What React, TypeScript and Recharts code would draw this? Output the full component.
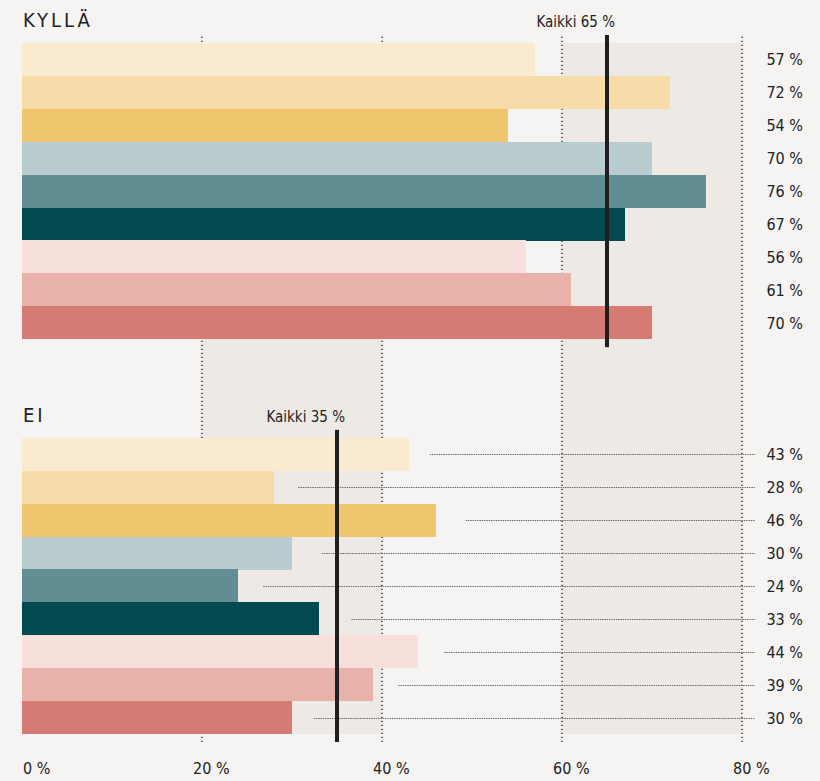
import React from 'react';
import { BarChart, Bar, XAxis, YAxis, ReferenceArea, ReferenceLine } from 'recharts';

const groupColors = ['#faebd0', '#f7dca9', '#efc56e', '#b9ccd0', '#628e93', '#014b50', '#f7dfdb', '#e8b1a9', '#d77c74'];
const kyllaValues = [57, 72, 54, 70, 76, 67, 56, 61, 70];
const eiValues = [43, 28, 46, 30, 24, 33, 44, 39, 30];
const eiLeaderFrom = [45.3, 30.7, 49.3, 33.3, 26.8, 36.6, 46.9, 41.8, 32.4];
const sectionTitles = ['KYLLÄ', 'EI'];
const sectionAverages = [65, 35];
const xTicks = [0, 20, 40, 60, 80];
const gridValues = [20, 40, 60, 80];
const shadedBands = [[20, 40], [60, 80]];
const gapRowCount = 3;

const FONT = "'DejaVu Sans Condensed', 'Noto Sans', sans-serif";
const TEXT = '#222222';

type Row = { key: string; value: number | null; color: string; label: string; leaderFrom: number | null };

const kyllaRows: Row[] = kyllaValues.map((v, i) => ({ key: `k${i}`, value: v, color: groupColors[i], label: `${v} %`, leaderFrom: null }));
const gapRows: Row[] = Array.from({ length: gapRowCount }, (_, i) => ({ key: `g${i}`, value: null, color: 'none', label: '', leaderFrom: null }));
const eiRows: Row[] = eiValues.map((v, i) => ({ key: `e${i}`, value: v, color: groupColors[i], label: `${v} %`, leaderFrom: eiLeaderFrom[i] }));
const data: Row[] = [...kyllaRows, ...gapRows, ...eiRows];
const labelByKey: Record<string, string> = Object.fromEntries(data.map((r) => [r.key, r.label]));

const sections = [
  { title: sectionTitles[0], average: sectionAverages[0], first: kyllaRows[0].key, last: kyllaRows[kyllaRows.length - 1].key },
  { title: sectionTitles[1], average: sectionAverages[1], first: eiRows[0].key, last: eiRows[eiRows.length - 1].key },
];

const BarShape = (props: any) => {
  const { x, y, width, height, payload, background } = props;
  if (!payload || payload.value == null) return null;
  const cy = Math.round(y + height / 2) + 0.5;
  let leader = null;
  if (payload.leaderFrom != null && background) {
    const unit = width / payload.value;
    const lx = x + unit * payload.leaderFrom;
    const rx = background.x + background.width + 13;
    leader = <line x1={lx} x2={rx} y1={cy} y2={cy} stroke="#6e6e6e" strokeWidth={1} strokeDasharray="1.5 0.8" />;
  }
  return (
    <g>
      <rect x={x} y={y} width={width} height={height} fill={payload.color} shapeRendering="crispEdges" />
      {leader}
    </g>
  );
};

const makeAverageShape = (avg: number) => (props: any) => {
  const { x, y, width, height } = props;
  const cx = x + width / 2;
  return (
    <g>
      <rect x={cx - 2} y={y - 8} width={4} height={height + 16} fill="#1f1f1f" />
      <text x={cx + 8} y={y - 16} textAnchor="end" fontFamily={FONT} fontSize={15} fill={TEXT}>{`Kaikki ${avg} %`}</text>
    </g>
  );
};

const makeTitleShape = (title: string) => (props: any) => {
  const { x, y } = props;
  return (
    <text x={x + 1} y={y - 16} fontFamily={FONT} fontSize={20} letterSpacing={3} fill={TEXT}>{title}</text>
  );
};

const XTick = (props: any) => {
  const { x, y, payload } = props;
  const v = payload.value;
  return (
    <text x={x + (v === 0 ? 1 : -9)} y={y + 32} textAnchor="start" fontFamily={FONT} fontSize={16} fill={TEXT}>{`${v} %`}</text>
  );
};

const RightTick = (props: any) => {
  const { x, y, payload } = props;
  const label = labelByKey[payload.value];
  if (!label) return null;
  return (
    <text x={x + 61} y={y + 6} textAnchor="end" fontFamily={FONT} fontSize={16} fill={TEXT}>{label}</text>
  );
};

export default function App() {
  return (
    <div style={{ position: 'absolute', left: 0, top: 0, width: 820, height: 781, background: '#f5f4f2' }}>
      <BarChart
        width={820}
        height={781}
        data={data}
        layout="vertical"
        barCategoryGap={0}
        margin={{ top: 35, right: 0, bottom: 0, left: 22 }}
      >
        <XAxis
          type="number"
          domain={[0, 80]}
          ticks={xTicks}
          interval={0}
          axisLine={false}
          tickLine={false}
          tickSize={0}
          tickMargin={0}
          height={39}
          tick={<XTick />}
        />
        <YAxis yAxisId="left" type="category" dataKey="key" hide width={0} padding={{ top: 8, bottom: 8 }} />
        <YAxis
          yAxisId="right"
          orientation="right"
          type="category"
          dataKey="key"
          width={78}
          interval={0}
          axisLine={false}
          tickLine={false}
          tickSize={0}
          tickMargin={0}
          padding={{ top: 8, bottom: 8 }}
          tick={<RightTick />}
        />
        {shadedBands.map(([a, b]) => (
          <ReferenceArea key={`band${a}`} yAxisId="left" x1={a} x2={b} fill="#edeae5" fillOpacity={1} stroke="none" zIndex={-200} />
        ))}
        {gridValues.map((v) => (
          <ReferenceLine key={`grid${v}`} yAxisId="left" x={v} stroke="#222222" strokeWidth={1.3} strokeDasharray="1.3 2.7" zIndex={-150} />
        ))}
        <Bar yAxisId="left" dataKey="value" isAnimationActive={false} shape={BarShape} />
        {sections.map((s) => (
          <ReferenceArea
            key={`avg${s.title}`}
            yAxisId="left"
            x1={s.average}
            x2={s.average}
            y1={s.first}
            y2={s.last}
            shape={makeAverageShape(s.average)}
            zIndex={1500}
          />
        ))}
        {sections.map((s) => (
          <ReferenceArea
            key={`title${s.title}`}
            yAxisId="left"
            x1={0}
            x2={0}
            y1={s.first}
            y2={s.last}
            shape={makeTitleShape(s.title)}
            zIndex={1500}
          />
        ))}
      </BarChart>
    </div>
  );
}
